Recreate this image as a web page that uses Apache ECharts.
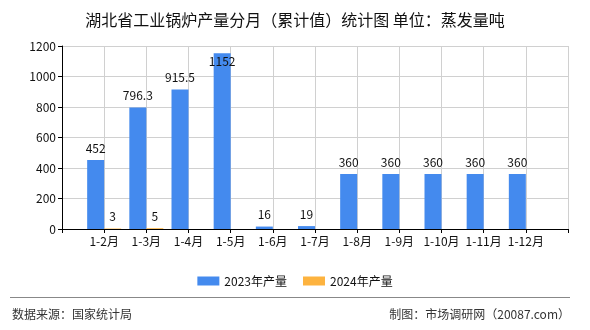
<!DOCTYPE html>
<html><head><meta charset="utf-8">
<script src="https://cdn.jsdelivr.net/npm/echarts@6/dist/echarts.min.js"></script>
<style>html,body{margin:0;padding:0;background:#fff}#c{width:590px;height:330px}</style>
</head><body><div id="c"></div>
<script>
const categories = ['', '1-2月', '1-3月', '1-4月', '1-5月', '1-6月', '1-7月', '1-8月', '1-9月', '1-10月', '1-11月', '1-12月', ''];
const values2023 = [null, 452, 796.3, 915.5, 1152, 16, 19, 360, 360, 360, 360, 360, null];
const values2024 = [null, 3, 5, null, null, null, null, null, null, null, null, null, null];
const yTicks = { min: 0, max: 1200, interval: 200 };
const seriesNames = ['2023年产量', '2024年产量'];
const titleText = '湖北省工业锅炉产量分月（累计值）统计图 单位：蒸发量吨';
const sourceText = '数据来源：国家统计局';
const makerText = '制图：市场调研网（20087.com）';

const FONT = '"Noto Sans CJK SC", "Noto Sans", sans-serif';
const chart = echarts.init(document.getElementById('c'), null, { renderer: 'canvas' });

function build(vals) {
  return vals.map(v => {
    if (v == null) return null;
    if (v > yTicks.max * 0.93) return { value: v, label: { position: 'insideTop', distance: 2 } };
    return v;
  });
}

chart.setOption({
  animation: false,
  textStyle: { fontFamily: FONT },
  title: {
    text: titleText, left: 'center', top: 7,
    textStyle: { fontSize: 16, fontWeight: 'normal', color: '#111', fontFamily: FONT }
  },
  legend: {
    data: seriesNames, left: 'center', top: 270, itemWidth: 22, itemHeight: 9, itemGap: 16,
    icon: 'rect',
    textStyle: { fontSize: 12, color: '#111', fontFamily: FONT }
  },
  grid: { left: 62, right: 22, top: 46, bottom: 101, containLabel: false },
  xAxis: {
    type: 'category', data: categories, boundaryGap: false,
    axisLine: { lineStyle: { color: '#000', width: 1 } },
    axisTick: { show: true, length: 4, alignWithLabel: true, lineStyle: { color: '#000' } },
    axisLabel: { interval: 0, margin: 6, fontSize: 12, color: '#111', fontFamily: FONT },
    splitLine: { show: true, lineStyle: { color: '#d0d0d0' } }
  },
  yAxis: {
    type: 'value', min: yTicks.min, max: yTicks.max, interval: yTicks.interval,
    axisLine: { show: true, lineStyle: { color: '#000' } },
    axisTick: { show: true, length: 4, lineStyle: { color: '#000' } },
    axisLabel: { margin: 6, fontSize: 12, color: '#111', fontFamily: FONT, formatter: v => String(v) },
    splitLine: { show: true, lineStyle: { color: '#d0d0d0' } }
  },
  series: [
    {
      name: seriesNames[0], type: 'bar', data: build(values2023), barWidth: 17, barGap: '0%',
      itemStyle: { color: '#448AEE' },
      label: { show: true, position: 'top', fontSize: 12, color: '#111', fontFamily: FONT, distance: 6 }
    },
    {
      name: seriesNames[1], type: 'bar', data: build(values2024), barWidth: 17, barGap: '0%',
      itemStyle: { color: '#FDB33F' },
      label: { show: true, position: 'top', fontSize: 12, color: '#111', fontFamily: FONT, distance: 6 }
    }
  ],
  graphic: [
    { type: 'line', shape: { x1: 10, y1: 297.5, x2: 570, y2: 297.5 }, style: { stroke: '#888', lineWidth: 1 } },
    { type: 'text', left: 12, top: 308, style: { text: sourceText, fontSize: 12, fill: '#333', fontFamily: FONT } },
    { type: 'text', right: 20, top: 308, style: { text: makerText, fontSize: 12, fill: '#333', fontFamily: FONT } }
  ]
});
</script></body></html>
